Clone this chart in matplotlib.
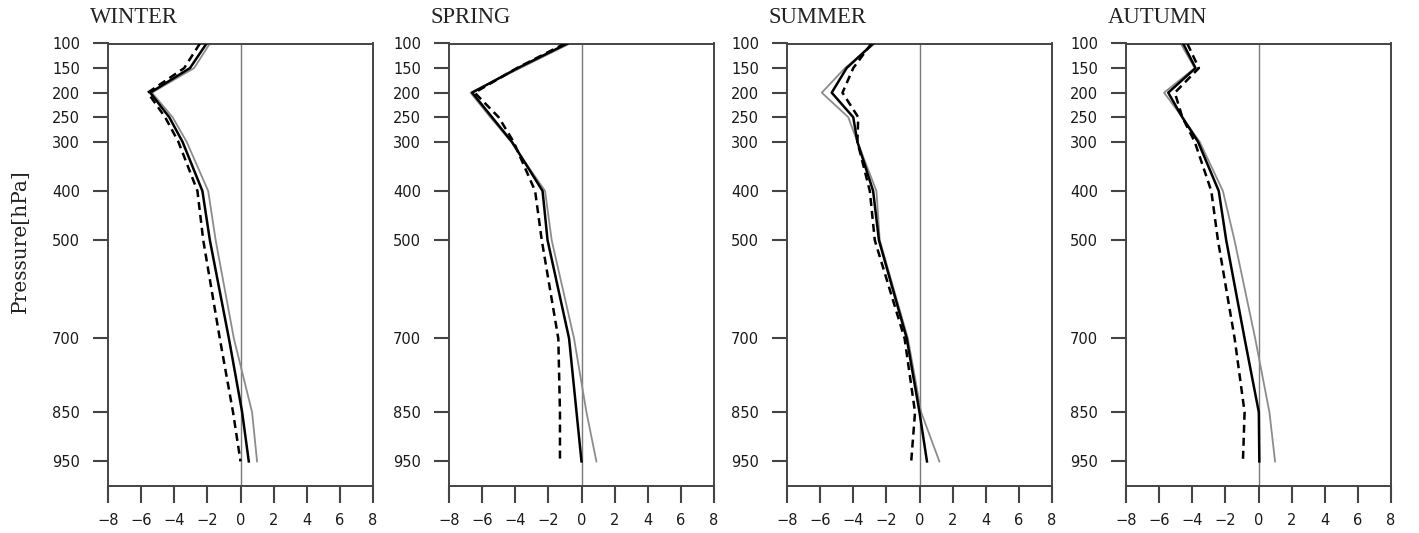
import matplotlib.pyplot as plt

# pressure levels (hPa)
levels = [100, 150, 200, 250, 300, 400, 500, 700, 850, 950]

seasons = ["WINTER", "SPRING", "SUMMER", "AUTUMN"]

# thin grey profiles
winter_grey = [-1.85, -2.8, -5.35, -4.1, -3.25, -1.95, -1.5, -0.4, 0.7, 1.0]
spring_grey = [-0.7, -3.7, -6.7, -5.5, -4.25, -2.2, -1.8, -0.45, 0.3, 0.9]
summer_grey = [-2.7, -4.5, -5.9, -4.3, -3.75, -2.6, -2.4, -0.7, 0.1, 1.2]
autumn_grey = [-4.7, -3.85, -5.7, -4.6, -3.55, -2.15, -1.45, -0.2, 0.66, 1.0]

# thick solid profiles
winter_solid = [-2.05, -3.05, -5.45, -4.3, -3.5, -2.3, -1.85, -0.7, 0.1, 0.5]
spring_solid = [-0.85, -3.85, -6.6, -5.4, -4.2, -2.35, -2.05, -0.75, -0.3, 0.0]
summer_solid = [-2.8, -4.4, -5.3, -4.0, -3.75, -2.8, -2.45, -0.77, 0.0, 0.45]
autumn_solid = [-4.55, -3.8, -5.45, -4.6, -3.65, -2.4, -1.95, -0.84, 0.02, 0.05]

# dashed profiles
winter_dash = [-2.45, -3.4, -5.6, -4.55, -3.75, -2.6, -2.25, -1.25, -0.45, 0.0]
spring_dash = [-1.0, -3.9, -6.45, -5.0, -4.1, -2.8, -2.4, -1.4, -1.3, -1.3]
summer_dash = [-2.9, -4.0, -4.65, -3.7, -3.75, -3.0, -2.7, -0.9, -0.27, -0.5]
autumn_dash = [-4.3, -3.6, -5.05, -4.6, -3.85, -2.85, -2.45, -1.44, -0.84, -0.94]

grey_profiles = [winter_grey, spring_grey, summer_grey, autumn_grey]
solid_profiles = [winter_solid, spring_solid, summer_solid, autumn_solid]
dash_profiles = [winter_dash, spring_dash, summer_dash, autumn_dash]

xticks = [-8, -6, -4, -2, 0, 2, 4, 6, 8]

W, H = 1419, 533
fig = plt.figure(figsize=(W / 100, H / 100), dpi=100)

lefts = [108, 449, 787, 1126]
ax_w, ax_top, ax_bot = 265, 43.5, 486

for i, name in enumerate(seasons):
    ax = fig.add_axes([lefts[i] / W, 1 - ax_bot / H, ax_w / W, (ax_bot - ax_top) / H])
    ax.axvline(0, color="#7a7a7a", lw=1.0, zorder=1)
    ax.plot(grey_profiles[i], levels, color="#8c8c8c", lw=1.3, zorder=2)
    ax.plot(solid_profiles[i], levels, color="black", lw=1.8, zorder=3)
    ax.plot(dash_profiles[i], levels, color="black", lw=1.8, ls=(0, (3.2, 2.0)), zorder=4)

    ax.set_xlim(-8, 8)
    ax.set_ylim(1000, 100)
    ax.set_xticks(xticks)
    ax.set_xticklabels([str(t).replace("-", "\u2212") for t in xticks])
    ax.set_yticks(levels)
    ax.set_yticklabels([str(p) for p in levels])
    ax.tick_params(axis="y", direction="out", length=11, width=1.5, pad=9,
                   labelsize=10.5, color="#444444", labelcolor="#1a1a1a")
    ax.tick_params(axis="x", direction="out", length=12.5, width=1.5, pad=7,
                   labelsize=10.5, color="#444444", labelcolor="#1a1a1a")
    for sp in ax.spines.values():
        sp.set_color("#444444")
        sp.set_linewidth(1.4)

    fig.text((lefts[i] - 18) / W, 1 - 28 / H, name, family="Liberation Serif",
             fontsize=16.3, ha="left", va="bottom", color="#222222")

fig.text(20 / W, 1 - 241 / H, "Pressure[hPa]", family="DejaVu Serif",
         fontsize=14.5, rotation=90, ha="center", va="center", color="#222222")

fig.savefig("out.png", dpi=100)
